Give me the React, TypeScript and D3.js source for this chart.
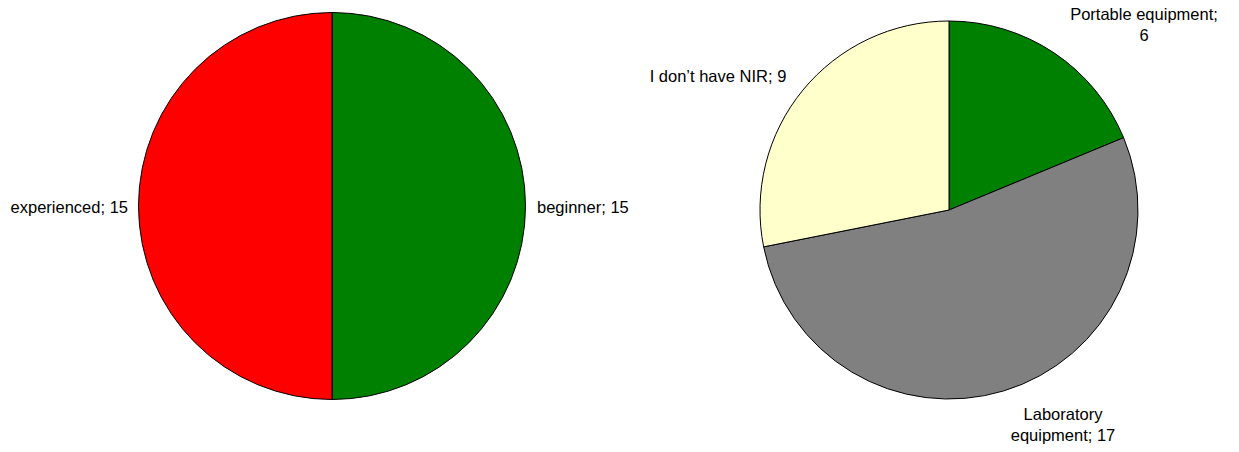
import { useEffect, useRef } from "react";
import * as d3 from "d3";

// left pie: experience level
const levelLabels = ["beginner", "experienced"];
const levelValues = [15, 15];
const levelColors = ["#008000", "#FF0000"];

// right pie: type of NIR equipment
const equipLabels = ["Portable equipment", "Laboratory equipment", "I don\u2019t have NIR"];
const equipValues = [6, 17, 9];
const equipColors = ["#008000", "#808080", "#FFFFCC"];

const width = 1239;
const height = 452;

const App = () => {
  const svgRef = useRef<SVGSVGElement | null>(null);

  useEffect(() => {
    if (!svgRef.current) return;
    const svg = d3.select(svgRef.current);
    svg.selectAll("*").remove();

    const pie = d3.pie<number>().sort(null).value((d) => d);

    const drawPie = (
      cx: number,
      cy: number,
      r: number,
      values: number[],
      colors: string[]
    ) => {
      const g = svg.append("g").attr("transform", `translate(${cx},${cy})`);
      const arc = d3.arc<d3.PieArcDatum<number>>().innerRadius(0).outerRadius(r);
      g.selectAll("path")
        .data(pie(values))
        .enter()
        .append("path")
        .attr("d", (d) => arc(d) as string)
        .attr("fill", (_, i) => colors[i])
        .attr("stroke", "#000")
        .attr("stroke-width", 1);
    };

    drawPie(332, 206, 193.5, levelValues, levelColors);
    drawPie(949, 210, 189, equipValues, equipColors);

    const font = "'Liberation Sans', Arial, sans-serif";
    const label = (x: number, y: number, lines: string[], anchor: string) => {
      const t = svg
        .append("text")
        .attr("x", x)
        .attr("y", y)
        .attr("text-anchor", anchor)
        .attr("font-family", font)
        .attr("font-size", 16.5)
        .attr("fill", "#000");
      lines.forEach((line, i) => {
        t.append("tspan")
          .attr("x", x)
          .attr("dy", i === 0 ? 0 : 20.5)
          .text(line);
      });
    };

    label(128, 213, [`${levelLabels[1]}; ${levelValues[1]}`], "end");
    label(537, 213, [`${levelLabels[0]}; ${levelValues[0]}`], "start");
    label(1144, 20, ["Portable equipment;", `${equipValues[0]}`], "middle");
    label(718, 82, [`${equipLabels[2]}; ${equipValues[2]}`], "middle");
    label(1063, 420, ["Laboratory", `equipment; ${equipValues[1]}`], "middle");
  }, []);

  return (
    <svg
      ref={svgRef}
      width={width}
      height={height}
      style={{ position: "absolute", left: 0, top: 0, overflow: "visible" }}
    ></svg>
  );
};

export default App;
